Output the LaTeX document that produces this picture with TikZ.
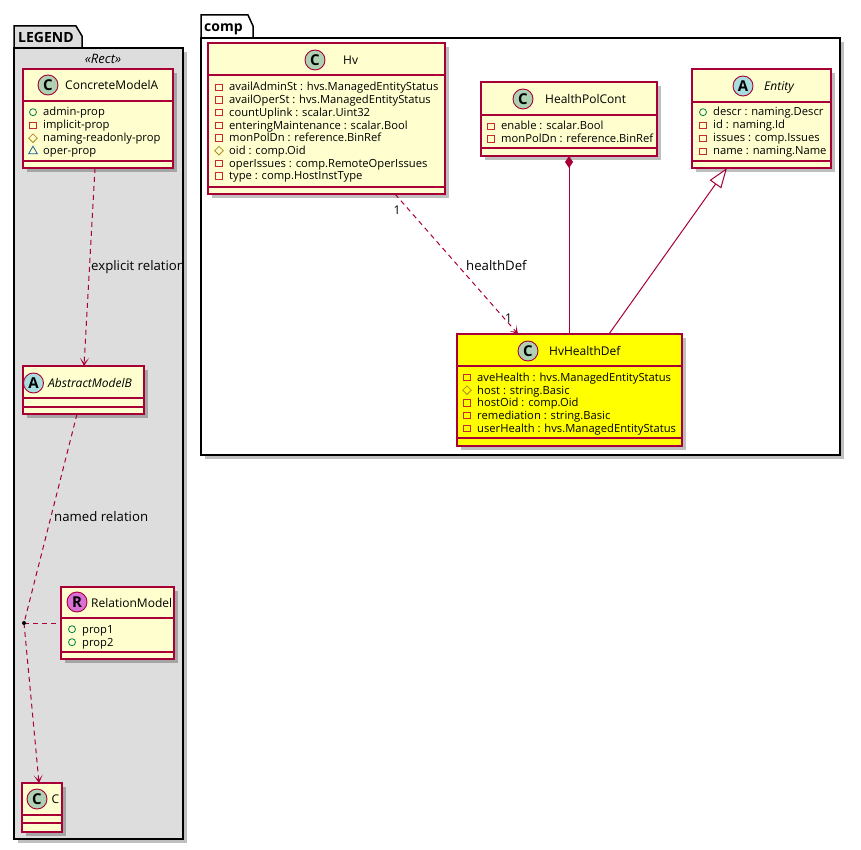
\documentclass[tikz,border=0pt]{standalone}
\usepackage{fontspec}
\setmainfont{Open Sans}
\usetikzlibrary{arrows.meta,shapes.geometric,shadows}
\definecolor{umlborder}{HTML}{A80036}
\definecolor{umlfill}{HTML}{FEFECE}
\definecolor{spotC}{HTML}{ADD1B2}
\definecolor{spotA}{HTML}{A9DCDF}
\definecolor{spotR}{HTML}{DA70D6}
\definecolor{pubc}{HTML}{038048}
\definecolor{privc}{HTML}{C82930}
\definecolor{protc}{HTML}{B38D22}
\definecolor{pkgc}{HTML}{1963A0}
\definecolor{legendbg}{HTML}{DDDDDD}
\definecolor{hlyellow}{HTML}{FFFF00}
\tikzset{
  umlshadow/.style={drop shadow={shadow xshift=4pt, shadow yshift=-4pt, fill=black, opacity=0.25}},
  classbox/.style={rectangle, draw=umlborder, fill=umlfill, line width=1.2pt, anchor=north west,
    inner sep=0pt, outer sep=0pt, umlshadow},
  sepline/.style={draw=umlborder, line width=1.2pt},
  spot/.style={circle, draw=umlborder, line width=0.9pt, minimum size=20pt, inner sep=0pt,
    font=\bfseries\fontsize{15}{15}\selectfont},
  titletext/.style={anchor=base west, inner sep=0pt, font=\fontsize{12}{14}\selectfont},
  attrtext/.style={anchor=base west, inner sep=0pt, font=\fontsize{11.2}{13}\selectfont},
  lbltext/.style={anchor=base west, inner sep=0pt, font=\fontsize{13.2}{15}\selectfont},
  multtext/.style={anchor=center, inner sep=0pt, font=\fontsize{12}{14}\selectfont},
  pkgtitle/.style={anchor=base west, inner sep=0pt, font=\bfseries\fontsize{14}{16}\selectfont},
  pkgline/.style={draw=black, line width=1.5pt},
  iconpriv/.style={rectangle, draw=privc, line width=0.8pt, minimum size=6.5pt, inner sep=0pt},
  iconpub/.style={circle, draw=pubc, line width=0.8pt, minimum size=7pt, inner sep=0pt},
  iconprot/.style={diamond, draw=protc, line width=0.8pt, minimum size=9pt, inner sep=0pt},
  iconpkg/.style={regular polygon, regular polygon sides=3, draw=pkgc, line width=0.8pt, minimum size=10pt, inner sep=0pt},
  conn/.style={draw=umlborder, line width=1pt},
  dashconn/.style={conn, dash pattern=on 5pt off 4pt},
  deparrow/.style={dashconn, -{Stealth[length=8pt,width=9pt,inset=5pt]}},
}
\newcommand\umlrow[5]{%
  \node[#2] (#1i) at (#3-10, #4-3.8) {};
  \node[attrtext] (#1) at (#3, #4) {#5};}
\begin{document}
\begin{tikzpicture}[x=1pt, y=-1pt]
\useasboundingbox (0,0) rectangle (861,850);

% ---------------- LEGEND package
\draw[pkgline, fill=legendbg, umlshadow] (14,48) rectangle (183,839);
\draw[pkgline, fill=legendbg] (14,48) -- (14,26) -- (76,26) -- (82,36) -- (82,48) -- cycle;
\node[pkgtitle] (legendtitle) at (18,42.5) {LEGEND};
\node[anchor=base, inner sep=0pt, font=\itshape\fontsize{13}{15}\selectfont] (stereo) at (103,64) {«Rect»};

% ConcreteModelA
\node[classbox, minimum width=150pt, minimum height=99pt] (cma) at (23,69) {};
\draw[sepline] (23,101) -- (173,101);
\draw[sepline] (23,161) -- (173,161);
\node[spot, fill=spotC] (cmas) at (48,85) {C};
\node[titletext] (cmat) at (65,90) {ConcreteModelA};
\umlrow{cma1}{iconpub}{43}{116}{admin-prop}
\umlrow{cma2}{iconpriv}{43}{129}{implicit-prop}
\umlrow{cma3}{iconprot}{43}{142}{naming-readonly-prop}
\umlrow{cma4}{iconpkg}{43}{155}{oper-prop}

% AbstractModelB
\node[classbox, minimum width=121pt, minimum height=48pt] (amb) at (23,366) {};
\draw[sepline] (23,398) -- (144,398);
\draw[sepline] (23,407) -- (144,407);
\node[spot, fill=spotA] (ambs) at (33.5,383) {A};
\node[titletext, font=\itshape\fontsize{12}{14}\selectfont] (ambt) at (48,387.5) {AbstractModelB};

% RelationModel
\node[classbox, minimum width=113pt, minimum height=72pt] (rm) at (61,587) {};
\draw[sepline] (61,618) -- (174,618);
\draw[sepline] (61,652) -- (174,652);
\node[spot, fill=spotR] (rms) at (77,602) {R};
\node[titletext] (rmt) at (91,607) {RelationModel};
\umlrow{rm1}{iconpub}{82}{633}{prop1}
\umlrow{rm2}{iconpub}{82}{646}{prop2}

% C
\node[classbox, minimum width=40pt, minimum height=49pt] (cc) at (22,783) {};
\draw[sepline] (22,815) -- (62,815);
\draw[sepline] (22,823) -- (62,823);
\node[spot, fill=spotC] (ccs) at (37,799) {C};
\node[titletext] (cct) at (51.5,803.5) {C};

% relation dot
\coordinate (rdot) at (24,623);

% legend connectors
\draw[deparrow] ([xshift=72pt]cma.south west) -- ([xshift=61pt]amb.north west);
\node[lbltext] (lexp) at (91,270) {explicit relation};
\draw[dashconn] ([xshift=54pt]amb.south west) -- (rdot);
\node[lbltext] (lnamed) at (54,521) {named relation};
\draw[dashconn] (rdot) -- (rm.west);
\draw[deparrow] (rdot) -- ([xshift=17pt]cc.north west);
\fill[black] (rdot) circle (2pt);

% ---------------- comp package
\draw[pkgline, fill=white, umlshadow] (201,38) rectangle (840,455);
\draw[pkgline, fill=white] (201,38) -- (201,15) -- (248,15) -- (253,26) -- (253,38) -- cycle;
\node[pkgtitle] (comptitle) at (204,31.5) {comp};

% Hv
\node[classbox, minimum width=237pt, minimum height=151pt] (hv) at (208,43) {};
\draw[sepline] (208,75) -- (445,75);
\draw[sepline] (208,187) -- (445,187);
\node[spot, fill=spotC] (hvs) at (315,60) {C};
\node[titletext] (hvt) at (343,64.5) {Hv};
\umlrow{hv1}{iconpriv}{229}{91}{availAdminSt : hvs.ManagedEntityStatus}
\umlrow{hv2}{iconpriv}{229}{103.7}{availOperSt : hvs.ManagedEntityStatus}
\umlrow{hv3}{iconpriv}{229}{116.4}{countUplink : scalar.Uint32}
\umlrow{hv4}{iconpriv}{229}{129.1}{enteringMaintenance : scalar.Bool}
\umlrow{hv5}{iconpriv}{229}{141.8}{monPolDn : reference.BinRef}
\umlrow{hv6}{iconprot}{229}{154.5}{oid : comp.Oid}
\umlrow{hv7}{iconpriv}{229}{167.2}{operIssues : comp.RemoteOperIssues}
\umlrow{hv8}{iconpriv}{229}{179.9}{type : comp.HostInstType}

% HealthPolCont
\node[classbox, minimum width=176pt, minimum height=74pt] (hpc) at (481,82) {};
\draw[sepline] (481,115) -- (657,115);
\draw[sepline] (481,148) -- (657,148);
\node[spot, fill=spotC] (hpcs) at (523,99) {C};
\node[titletext] (hpct) at (545,103.5) {HealthPolCont};
\umlrow{hpc1}{iconpriv}{501}{130}{enable : scalar.Bool}
\umlrow{hpc2}{iconpriv}{501}{142.7}{monPolDn : reference.BinRef}

% Entity
\node[classbox, minimum width=139pt, minimum height=99pt] (ent) at (692,69) {};
\draw[sepline] (692,102) -- (831,102);
\draw[sepline] (692,161) -- (831,161);
\node[spot, fill=spotA] (ents) at (743,86) {A};
\node[titletext, font=\itshape\fontsize{12}{14}\selectfont] (entt) at (764,90.5) {Entity};
\umlrow{ent1}{iconpub}{713}{116}{descr : naming.Descr}
\umlrow{ent2}{iconpriv}{713}{129}{id : naming.Id}
\umlrow{ent3}{iconpriv}{713}{142}{issues : comp.Issues}
\umlrow{ent4}{iconpriv}{713}{155}{name : naming.Name}

% HvHealthDef
\node[classbox, fill=hlyellow, minimum width=225pt, minimum height=112pt] (hhd) at (457,334) {};
\draw[sepline] (457,366) -- (682,366);
\draw[sepline] (457,438) -- (682,438);
\node[spot, fill=spotC] (hhds) at (528,351) {C};
\node[titletext] (hhdt) at (549,355.5) {HvHealthDef};
\umlrow{hhd1}{iconpriv}{477}{381.3}{aveHealth : hvs.ManagedEntityStatus}
\umlrow{hhd2}{iconprot}{477}{394}{host : string.Basic}
\umlrow{hhd3}{iconpriv}{477}{406.7}{hostOid : comp.Oid}
\umlrow{hhd4}{iconpriv}{477}{419.4}{remediation : string.Basic}
\umlrow{hhd5}{iconpriv}{477}{432.1}{userHealth : hvs.ManagedEntityStatus}

% comp connectors
\draw[deparrow] ([xshift=187pt]hv.south west) -- ([xshift=61pt]hhd.north west);
\node[multtext] (mult1) at (397,210.5) {1};
\node[multtext] (mult2) at (508.5,318) {1};
\node[lbltext] (lhd) at (466,270.5) {healthDef};
\draw[conn, {Diamond[length=12pt,width=8pt]}-] ([xshift=88pt]hpc.south west) -- ([xshift=112pt]hhd.north west);
\draw[conn, -{Triangle[length=20pt,width=14pt,fill=white]}] ([xshift=152pt]hhd.north west) -- ([xshift=35pt]ent.south west);
\end{tikzpicture}
\end{document}
